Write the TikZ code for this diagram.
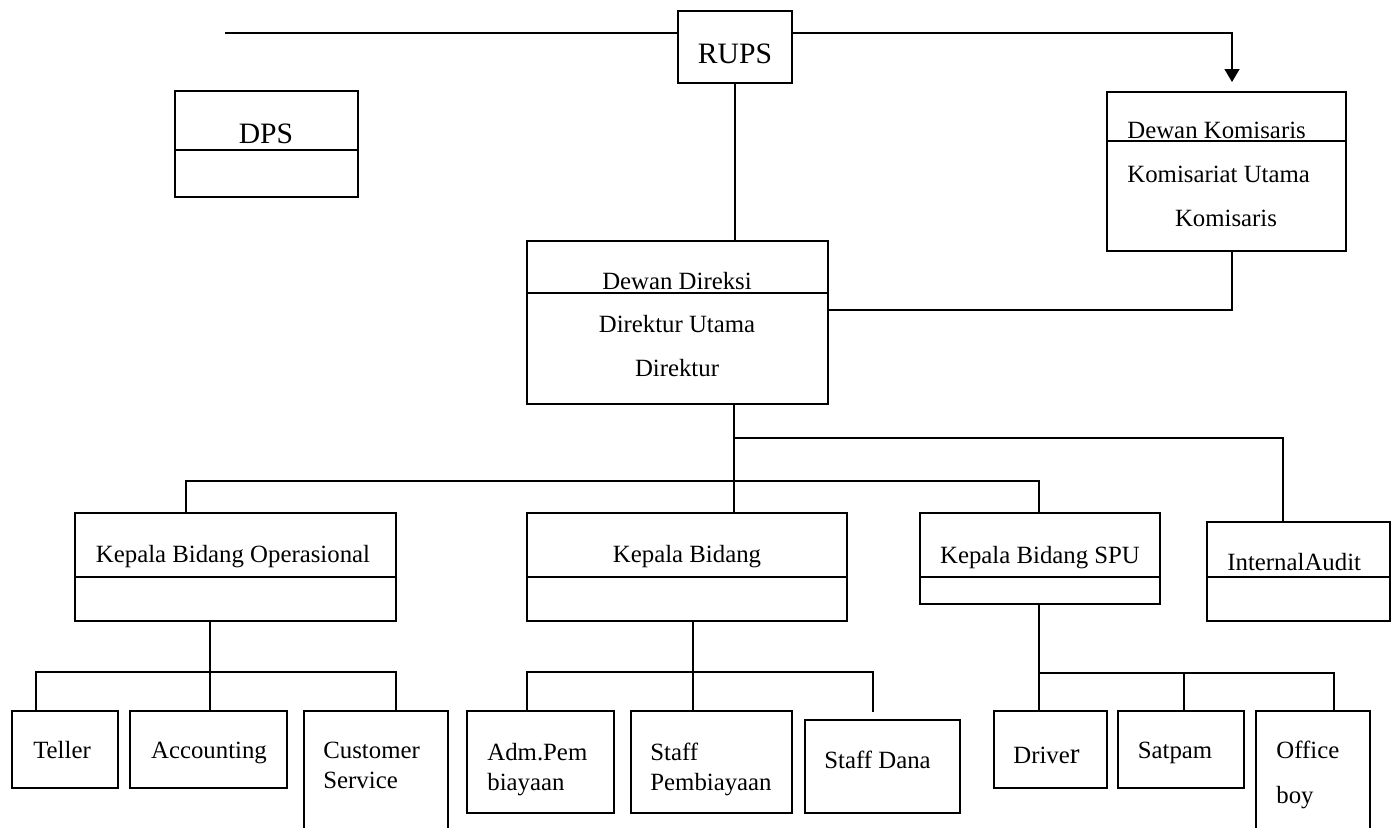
\documentclass[tikz,border=0pt]{standalone}
\usepackage{fontspec}
\setmainfont{Liberation Serif}
\usetikzlibrary{arrows.meta,fit}

\tikzset{
  box/.style={draw, line width=0.7pt, inner sep=0pt},
  link/.style={line width=0.7pt},
  lbl/.style={font=\fontsize{12.4}{14}\selectfont, inner sep=0pt, anchor=base},
  lbll/.style={lbl, anchor=base west},
  big/.style={lbl, font=\fontsize{14.8}{17}\selectfont},
}

\begin{document}
\begin{tikzpicture}[x=0.5pt, y=-0.5pt]
  \useasboundingbox (0,0) rectangle (1395,827);
  % Top level
  \node[box, fit={(678,11) (792,83)}] (rups) {};
  \node[big] (rupsT) at (735,63) {RUPS};
  \node[box, fit={(175,91) (358,197)}] (dps) {};
  \node[big] (dpsT) at (266,143) {DPS};
  \draw[link] (dps.west |- 0,150) -- (dps.east |- 0,150);
  \node[box, fit={(1107,92) (1346,251)}] (kom) {};
  \draw[link] (kom.west |- 0,141) -- (kom.east |- 0,141);
  \node[lbll] (komT) at (1127,138) {Dewan Komisaris};
  \node[lbll] (komU) at (1127,182) {Komisariat Utama};
  \node[lbl] (komK) at (1226,226) {Komisaris};
  \node[box, fit={(527,241) (828,404)}] (dir) {};
  \draw[link] (dir.west |- 0,293) -- (dir.east |- 0,293);
  \node[lbl] (dirT) at (677,289) {Dewan Direksi};
  \node[lbl] (dirU) at (677,332) {Direktur Utama};
  \node[lbl] (dirD) at (677,376) {Direktur};
  % Kepala bidang
  \node[box, fit={(75,513) (396,621)}] (ops) {};
  \draw[link] (ops.west |- 0,577) -- (ops.east |- 0,577);
  \node[lbl] (opsT) at (233,562) {Kepala Bidang Operasional};
  \node[box, fit={(527,513) (847,621)}] (kb) {};
  \draw[link] (kb.west |- 0,577) -- (kb.east |- 0,577);
  \node[lbl] (kbT) at (687,562) {Kepala Bidang};
  \node[box, fit={(920,513) (1160,604)}] (spu) {};
  \draw[link] (spu.west |- 0,577) -- (spu.east |- 0,577);
  \node[lbl] (spuT) at (1040,563) {Kepala Bidang SPU};
  \node[box, fit={(1207,522) (1390,621)}] (ia) {};
  \draw[link] (ia.west |- 0,577) -- (ia.east |- 0,577);
  \node[lbll] (iaT) at (1227,570) {InternalAudit};
  % Staff
  \node[box, fit={(12,711) (118,788)}] (tel) {};
  \node[lbl] (telT) at (62,758) {Teller};
  \node[box, fit={(130,711) (287,788)}] (acc) {};
  \node[lbl] (accT) at (209,758) {Accounting};
  \node[box, fit={(304,711) (448,845)}] (cs) {};
  \node[lbll] (csA) at (323,758) {Customer};
  \node[lbll] (csB) at (323,788) {Service};
  \node[box, fit={(467,711) (614,813)}] (adm) {};
  \node[lbll] (admA) at (487,760) {Adm.Pem};
  \node[lbll] (admB) at (487,790) {biayaan};
  \node[box, fit={(631,711) (792,813)}] (stp) {};
  \node[lbll] (stpA) at (650,760) {Staff};
  \node[lbll] (stpB) at (650,790) {Pembiayaan};
  \node[box, fit={(805,720) (960,813)}] (std) {};
  \node[lbll] (stdT) at (824,768) {Staff Dana};
  \node[box, fit={(994,711) (1107,788)}] (drv) {};
  \node[lbll] (drvT) at (1013,763) {Drive{\fontsize{14.6}{17}\selectfont r}};
  \node[box, fit={(1118,711) (1244,788)}] (sat) {};
  \node[lbl] (satT) at (1175,758) {Satpam};
  \node[box, fit={(1256,711) (1370,845)}] (ob) {};
  \node[lbll] (obA) at (1276,758) {Office};
  \node[lbll] (obB) at (1276,803) {boy};
  % Bus points
  \coordinate (topL) at (225,33);
  \coordinate (komArr) at (1232,82);
  \coordinate (komDrop) at (1232,310);
  \coordinate (busA) at (734,438);
  \coordinate (busB) at (734,481);
  \coordinate (iaX) at (1283,0);
  \coordinate (opsX) at (186,0);
  \coordinate (spuX) at (1039,0);
  \coordinate (busC) at (210,672);
  \coordinate (telX) at (36,0);
  \coordinate (csX) at (396,0);
  \coordinate (busD) at (693,672);
  \coordinate (admX) at (527,0);
  \coordinate (stdEnd) at (873,712);
  \coordinate (busE) at (1039,673);
  \coordinate (satX) at (1184,0);
  \coordinate (obX) at (1334,0);
  % Connectors
  \draw[link] (topL) -- (topL -| rups.west);
  \draw[link, -{Triangle[width=7.5pt,length=6.5pt]}] (rups.east |- topL) -| (komArr);
  \draw[link] (rups.south) -- (rups.south |- dir.north);
  \draw[link] (kom.south -| komDrop) -- (komDrop) -- (komDrop -| dir.east);
  \draw[link] (dir.south -| busA) -- (kb.north -| busA);
  \draw[link] (busA) -| (ia.north -| iaX);
  \draw[link] (ops.north -| opsX) |- (busB) -| (spu.north -| spuX);
  % Operasional
  \draw[link] (ops.south -| busC) -- (acc.north -| busC);
  \draw[link] (tel.north -| telX) |- (busC) -| (cs.north -| csX);
  % Pembiayaan
  \draw[link] (kb.south -| busD) -- (stp.north -| busD);
  \draw[link] (adm.north -| admX) |- (busD) -| (stdEnd);
  % SPU
  \draw[link] (spu.south -| busE) -- (drv.north -| busE);
  \draw[link] (busE) -| (ob.north -| obX);
  \draw[link] (busE -| satX) -- (sat.north -| satX);
\end{tikzpicture}
\end{document}
